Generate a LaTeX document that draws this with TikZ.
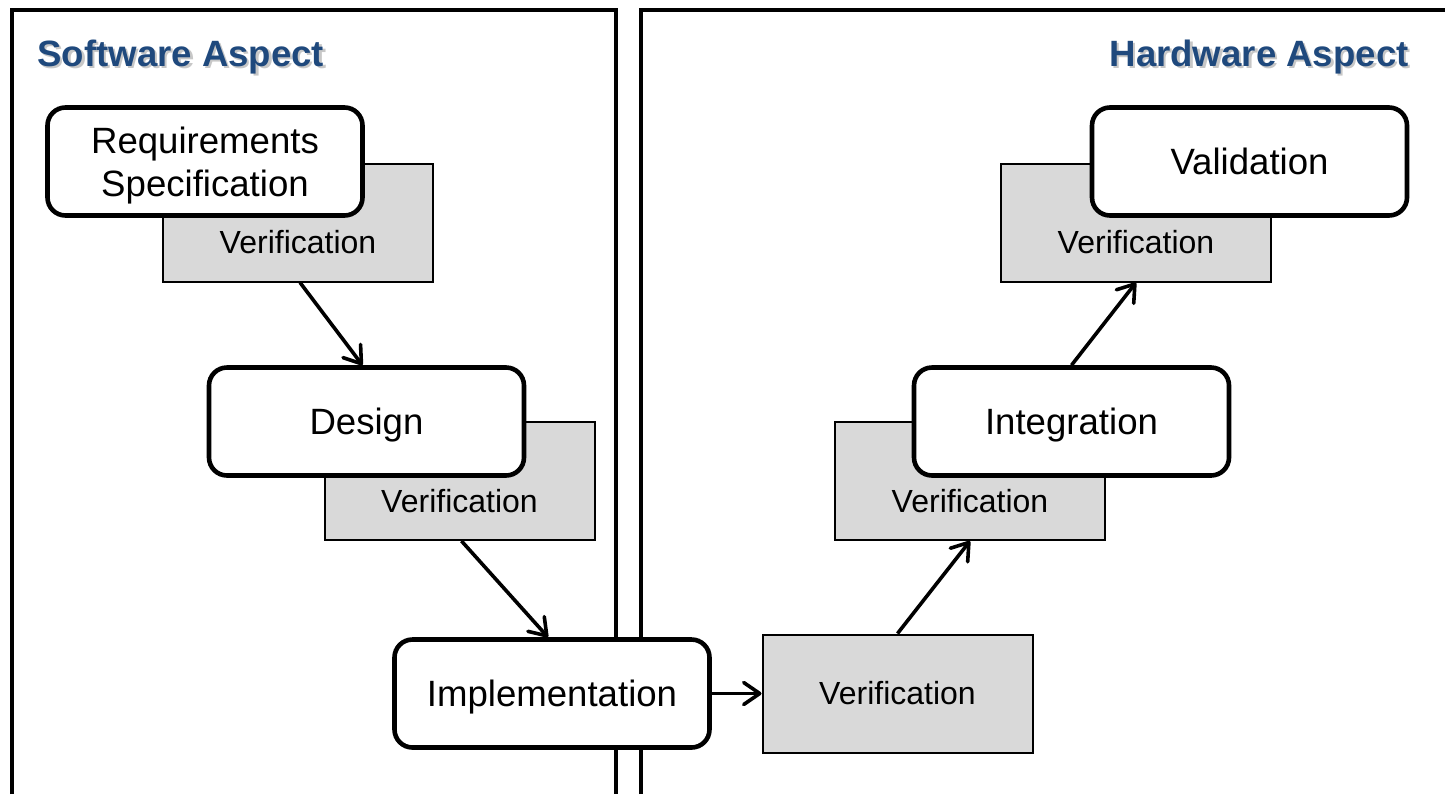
\documentclass[tikz,border=0pt]{standalone}
\usepackage{fontspec}
\setmainfont{Liberation Sans}
\usetikzlibrary{arrows.meta}
\definecolor{titleblue}{RGB}{31,73,125}
\newcommand{\shadowtext}[1]{\makebox[0pt][l]{\hspace{1.2pt}\raisebox{-1.2pt}{\color{black!22}#1}}#1}

\begin{document}
\begin{tikzpicture}[x=0.5pt, y=-0.5pt,
	main/.style = {draw, line width=2.3pt, rounded corners=9pt, fill=white, minimum width=157.5pt, minimum height=54pt, align=center, text height=13.4pt, text depth=0pt, font=\fontsize{18.3}{21.5}\selectfont},
	verif/.style = {draw, line width=1pt, fill=black!15, minimum width=135pt, minimum height=59pt, font=\fontsize{16}{18}\selectfont},
	vtext/.style = {font=\fontsize{16}{18}\selectfont},
	aspect/.style = {inner sep=0pt, font=\fontsize{18.3}{20}\selectfont\bfseries, text=titleblue},
	panel/.style = {line width=1.7pt},
	flow/.style = {line width=1.8pt, -{Straight Barb[length=8pt, width=11pt, round]}}]
	\useasboundingbox (0,0) rectangle (1445,794);
	% the two aspects
	\draw[panel] (12,794) -- (12,10) -- (616,10) -- (616,794);
	\draw[panel] (641,794) -- (641,10) -- (1445,10);
	\node[aspect, anchor=base west] (sw) at (37,66) {\shadowtext{Software Aspect}};
	\node[aspect, anchor=base east] (hw) at (1409,66) {\shadowtext{Hardware Aspect}};
	% stages
	\coordinate (p1) at (205,161.5);
	\coordinate (p2) at (366.5,421.5);
	\coordinate (p4) at (1071.5,421.5);
	\coordinate (p5) at (1249.5,161.5);
	\node[verif, label={[vtext, yshift=-10pt]center:Verification}] (v1) at ([shift={(93,61)}]p1) {};
	\node[verif, label={[vtext, yshift=-10pt]center:Verification}] (v2) at ([shift={(93,59.5)}]p2) {};
	\node[verif] (v3) at (897.5,693.5) {Verification};
	\node[verif, label={[vtext, yshift=-10pt]center:Verification}] (v4) at ([shift={(-101.5,59.5)}]p4) {};
	\node[verif, label={[vtext, yshift=-10pt]center:Verification}] (v5) at ([shift={(-113.5,61)}]p5) {};
	\node[main, text height={}] (1) at (p1) {Requirements\\Specification};
	\node[main] (2) at (p2) {Design};
	\node[main] (3) at (552,693.5) {Implementation};
	\node[main] (4) at (p4) {Integration};
	\node[main] (5) at (p5) {Validation};
	\draw[flow] ([xshift=1pt]v1.south) -- ([xshift=-2pt]2.north);
	\draw[flow] ([xshift=1pt]v2.south) -- ([xshift=-2pt]3.north);
	\draw[flow] (3.east) -- (v3.west);
	\draw[flow] (v3.north) -- (v4.south);
	\draw[flow] (4.north) -- (v5.south);
\end{tikzpicture}
\end{document}
